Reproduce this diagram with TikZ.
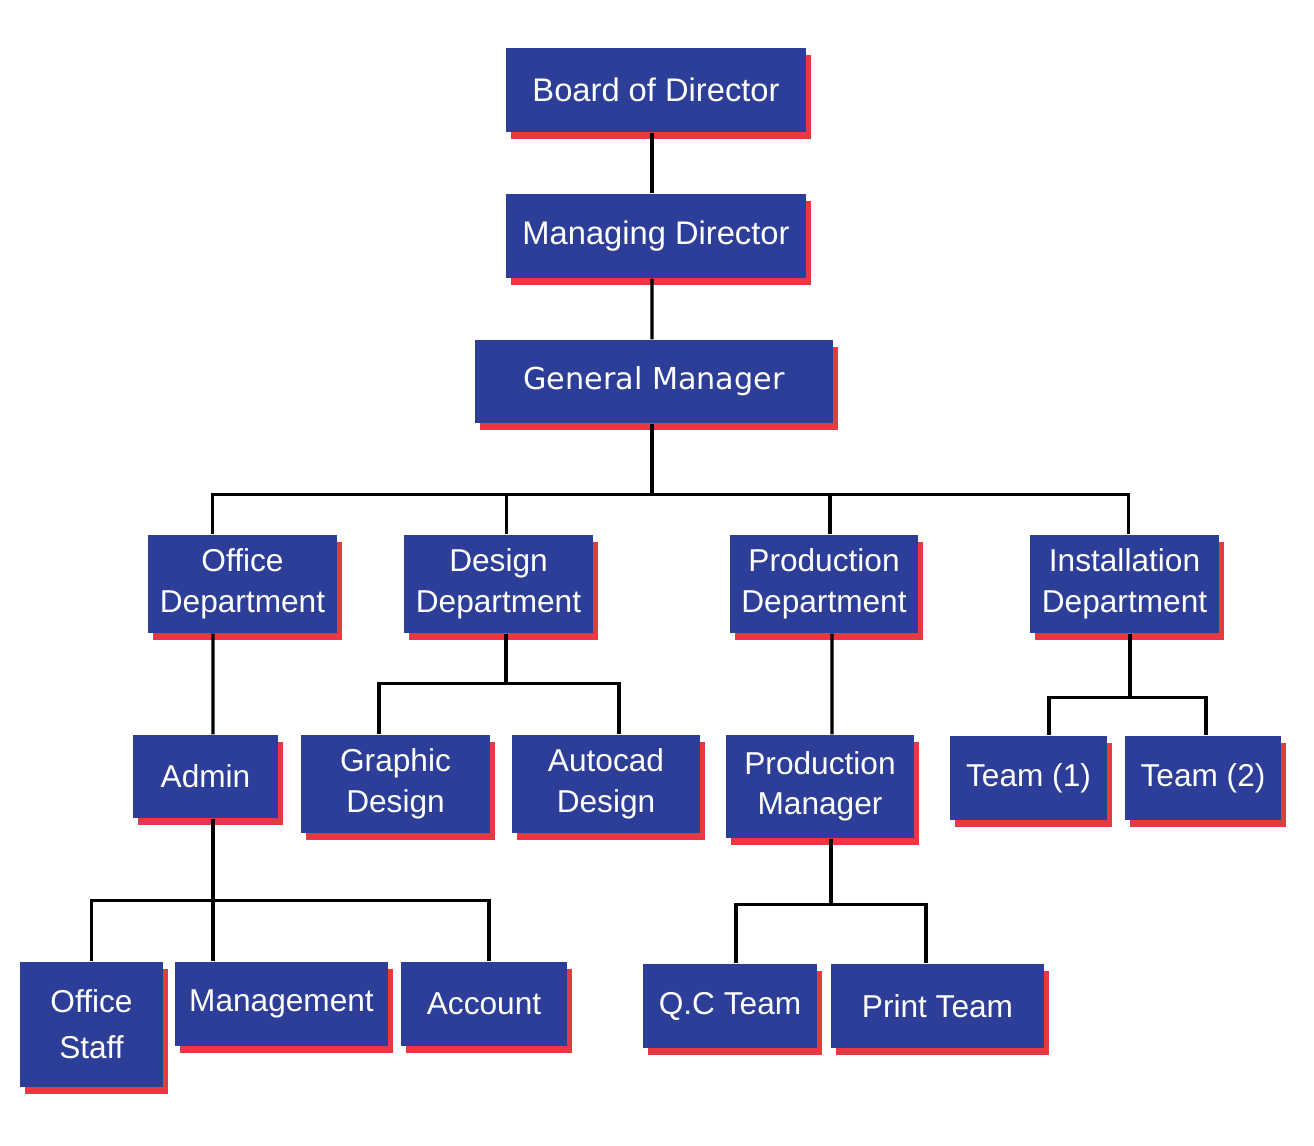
\documentclass[tikz,border=0pt]{standalone}
\usepackage{fontspec}
\setmainfont{Liberation Sans}
\newfontfamily\gmfont{DejaVu Sans}
\usetikzlibrary{shadows}

\definecolor{orgblue}{RGB}{45,62,152}
\definecolor{shadowred}{RGB}{230,58,66}

\tikzset{
  unit/.style={fill=orgblue, text=white, inner sep=0pt, align=center,
    font=\fontsize{9}{11.5}\selectfont,
    drop shadow={shadow xshift=0.05cm, shadow yshift=-0.07cm, fill=shadowred, opacity=1}},
  link/.style={draw=black, line width=0.9pt}
}

\begin{document}
\begin{tikzpicture}

  \useasboundingbox (0,0) rectangle (13.14,-11.45);

  % ---------- top of the chart ----------
  \node[unit, minimum width=3.00cm, minimum height=0.84cm, font=\fontsize{9.3}{11.5}\selectfont] (bod) at (6.56,-0.90) {Board of Director};
  \node[unit, minimum width=3.00cm, minimum height=0.84cm, font=\fontsize{9.3}{11.5}\selectfont] (md)  at (6.56,-2.36) {Managing Director};
  \node[unit, minimum width=3.58cm, minimum height=0.83cm, font=\gmfont\fontsize{8.6}{11}\selectfont] (gm) at (6.54,-3.815) {General Manager};

  % ---------- departments ----------
  \node[unit, minimum width=1.89cm, minimum height=0.98cm] (od) at (2.425,-5.84)  {Office\\Department};
  \node[unit, minimum width=1.89cm, minimum height=0.98cm] (dd) at (4.985,-5.84)  {Design\\Department};
  \node[unit, minimum width=1.88cm, minimum height=0.98cm] (pd) at (8.24,-5.84)   {Production\\Department};
  \node[unit, minimum width=1.89cm, minimum height=0.98cm] (id) at (11.245,-5.84) {Installation\\Department};

  % ---------- second level ----------
  \node[unit, minimum width=1.45cm, minimum height=0.83cm] (adm) at (2.055,-7.765) {Admin};
  \node[unit, minimum width=1.89cm, minimum height=0.98cm] (gd)  at (3.955,-7.84)  {Graphic\\Design};
  \node[unit, minimum width=1.88cm, minimum height=0.98cm] (ad)  at (6.06,-7.84)   {Autocad\\Design};
  \node[unit, minimum width=1.88cm, minimum height=1.03cm] (pm)  at (8.20,-7.865)  {Production\\Manager};
  \node[unit, minimum width=1.57cm, minimum height=0.84cm] (t1)  at (10.285,-7.78) {Team (1)};
  \node[unit, minimum width=1.56cm, minimum height=0.84cm] (t2)  at (12.03,-7.78)  {Team (2)};

  % ---------- bottom row ----------
  \node[unit, minimum width=1.43cm, minimum height=1.25cm, font=\fontsize{9}{13}\selectfont] (os) at (0.915,-10.245) {Office\\Staff};
  \node[unit, minimum width=2.13cm, minimum height=0.84cm] (mg) at (2.815,-10.04) {Management};
  \node[unit, minimum width=1.66cm, minimum height=0.84cm] (ac) at (4.84,-10.04)  {Account};
  \node[unit, minimum width=1.74cm, minimum height=0.84cm] (qc) at (7.30,-10.06)  {Q.C Team};
  \node[unit, minimum width=2.13cm, minimum height=0.84cm] (pt) at (9.375,-10.06) {Print Team};

  % ---------- connectors ----------
  \draw[link] ([xshift=-0.04cm]bod.south) -- ([xshift=-0.04cm]md.north);
  \draw[link] ([xshift=-0.04cm]md.south) -- ([xshift=-0.02cm]gm.north);

  \draw[link] ([xshift=-0.02cm]gm.south) -- ++(0,-0.71) coordinate (hubA);
  \draw[link] (hubA) -| ([xshift=-0.30cm]od.north);
  \draw[link] (hubA) -| ([xshift=0.08cm]dd.north);
  \draw[link] (hubA) -| ([xshift=0.06cm]pd.north);
  \draw[link] (hubA) -| ([xshift=0.04cm]id.north);

  \draw[link] ([xshift=-0.295cm]od.south) -- ([xshift=0.075cm]adm.north);
  \draw[link] ([xshift=0.075cm]adm.south) -- ++(0,-0.82) coordinate (hubB);
  \draw[link] (hubB) -| (os.north);
  \draw[link] (hubB) -- (hubB |- mg.north);
  \draw[link] (hubB) -| ([xshift=0.05cm]ac.north);

  \draw[link] ([xshift=0.075cm]dd.south) -- ++(0,-0.50) coordinate (hubC);
  \draw[link] (hubC) -| ([xshift=-0.165cm]gd.north);
  \draw[link] (hubC) -| ([xshift=0.13cm]ad.north);

  \draw[link] ([xshift=0.08cm]pd.south) -- ([xshift=0.12cm]pm.north);
  \draw[link] ([xshift=0.11cm]pm.south) -- ++(0,-0.66) coordinate (hubD);
  \draw[link] (hubD) -| ([xshift=0.06cm]qc.north);
  \draw[link] (hubD) -| ([xshift=-0.115cm]pt.north);

  \draw[link] ([xshift=0.055cm]id.south) -- ++(0,-0.64) coordinate (hubE);
  \draw[link] (hubE) -| ([xshift=0.205cm]t1.north);
  \draw[link] (hubE) -| ([xshift=0.03cm]t2.north);

\end{tikzpicture}
\end{document}
